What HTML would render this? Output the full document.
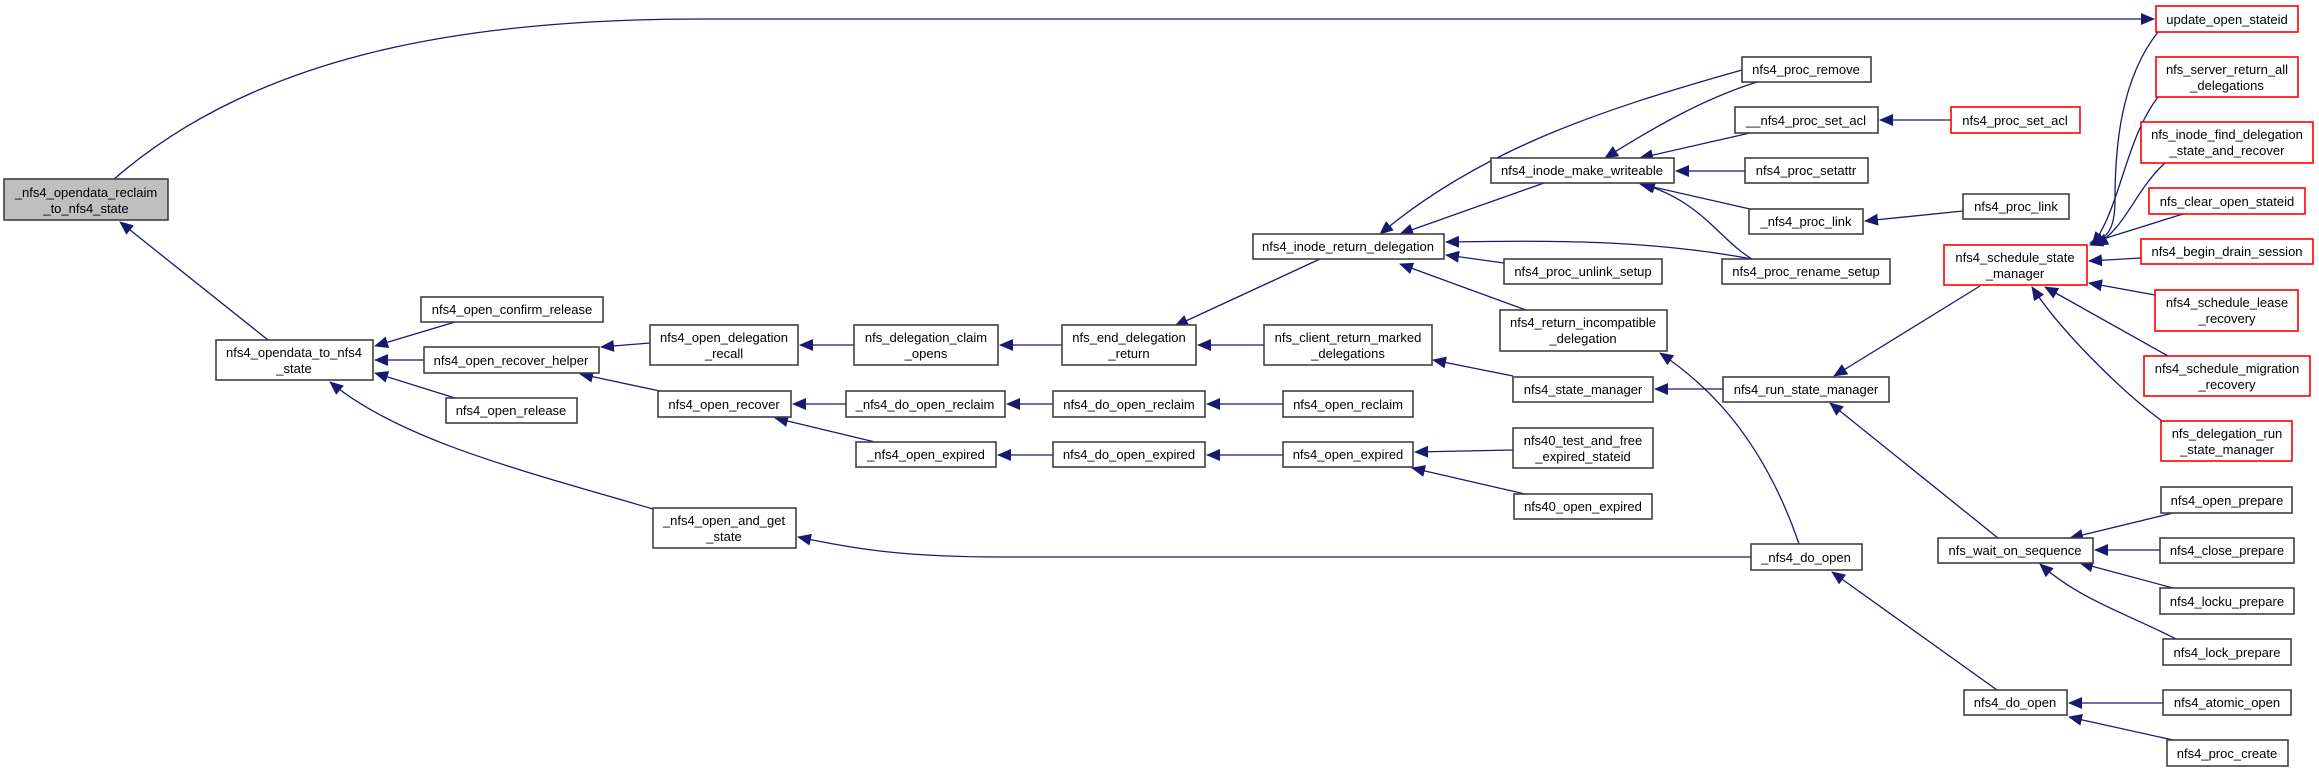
<!DOCTYPE html>
<html><head><meta charset="utf-8"><style>
html,body{margin:0;padding:0;background:#fff;}
svg{display:block;}
text{font-family:"Liberation Sans",sans-serif;font-size:13px;fill:#000;text-anchor:middle;}
.n{fill:#fff;stroke:#404040;stroke-width:1.6;}
.r{fill:#fff;stroke:#ff0000;stroke-width:1.6;}
.g{fill:#bfbfbf;stroke:#404040;stroke-width:1.6;}
.e{fill:none;stroke:#191970;stroke-width:1.3;marker-end:url(#a);}
</style></head><body>
<svg width="2319" height="772" viewBox="0 0 2319 772" xmlns="http://www.w3.org/2000/svg">
<defs><marker id="a" markerUnits="userSpaceOnUse" markerWidth="14" markerHeight="12" refX="13" refY="6" orient="auto"><path d="M0,0 L14,6 L0,12 Z" fill="#191970"/></marker></defs>
<!-- edges -->
<path class="e" d="M113,180 C250,60 450,19 700,19 L2154,19"/>
<path class="e" d="M268,340 L120,222"/>
<path class="e" d="M455,322 L375,346"/>
<path class="e" d="M424,360 L375,360"/>
<path class="e" d="M455,398 L375,373"/>
<path class="e" d="M653,509 C520,470 400,440 330,382"/>
<path class="e" d="M650,343 L601,347"/>
<path class="e" d="M660,391 L580,374"/>
<path class="e" d="M854,345 L800,345"/>
<path class="e" d="M1062,345 L1000,345"/>
<path class="e" d="M1320,259 L1175,326"/>
<path class="e" d="M1264,345 L1198,345"/>
<path class="e" d="M846,404 L793,404"/>
<path class="e" d="M875,442 L775,418"/>
<path class="e" d="M1053,404 L1007,404"/>
<path class="e" d="M1283,404 L1207,404"/>
<path class="e" d="M1053,455 L998,455"/>
<path class="e" d="M1283,455 L1207,455"/>
<path class="e" d="M1513,450 L1415,452"/>
<path class="e" d="M1525,494 L1412,468"/>
<path class="e" d="M1513,376 L1433,360"/>
<path class="e" d="M1723,389 L1655,389"/>
<path class="e" d="M1799,544 C1760,430 1700,380 1660,353"/>
<path class="e" d="M1751,557 L1000,557 C900,557 850,548 798,537"/>
<path class="e" d="M1997,690 L1832,572"/>
<path class="e" d="M2163,703 L2069,703"/>
<path class="e" d="M2173,740 L2069,717"/>
<path class="e" d="M1998,538 L1830,403"/>
<path class="e" d="M1980,286 L1834,376"/>
<path class="e" d="M2173,513 L2070,538"/>
<path class="e" d="M2160,550 L2095,550"/>
<path class="e" d="M2173,588 L2080,563"/>
<path class="e" d="M2176,639 C2130,615 2080,600 2040,564"/>
<path class="e" d="M2158,32 C2120,80 2115,150 2115,200 C2115,225 2110,238 2090,245"/>
<path class="e" d="M2158,97 C2125,140 2120,210 2092,245"/>
<path class="e" d="M2165,163 C2135,190 2125,230 2095,245"/>
<path class="e" d="M2183,214 L2090,243"/>
<path class="e" d="M2141,258 L2089,261"/>
<path class="e" d="M2155,295 L2089,283"/>
<path class="e" d="M2168,356 L2045,287"/>
<path class="e" d="M2162,421 C2120,390 2060,330 2032,287"/>
<path class="e" d="M1951,120 L1880,120"/>
<path class="e" d="M1750,133 L1640,158"/>
<path class="e" d="M1757,82 C1700,100 1650,130 1605,158"/>
<path class="e" d="M1745,171 L1676,171"/>
<path class="e" d="M1750,209 L1640,184"/>
<path class="e" d="M1963,211 L1865,221"/>
<path class="e" d="M1752,259 C1720,240 1700,200 1642,184"/>
<path class="e" d="M1752,259 C1650,240 1550,240 1446,242"/>
<path class="e" d="M1544,183 L1400,234"/>
<path class="e" d="M1742,70 C1600,110 1480,150 1380,234"/>
<path class="e" d="M1504,263 L1446,255"/>
<path class="e" d="M1526,310 L1400,264"/>
<!-- nodes -->
<g>
<rect class="g" x="4" y="179" width="164" height="41"/><text x="86" y="197">_nfs4_opendata_reclaim</text><text x="86" y="213">_to_nfs4_state</text>
<rect class="n" x="216" y="340" width="157" height="40"/><text x="294" y="357">nfs4_opendata_to_nfs4</text><text x="294" y="373">_state</text>
<rect class="n" x="421" y="297" width="182" height="25"/><text x="512" y="314">nfs4_open_confirm_release</text>
<rect class="n" x="424" y="347" width="175" height="26"/><text x="511" y="365">nfs4_open_recover_helper</text>
<rect class="n" x="446" y="398" width="131" height="25"/><text x="511" y="415">nfs4_open_release</text>
<rect class="n" x="653" y="508" width="143" height="40"/><text x="724" y="525">_nfs4_open_and_get</text><text x="724" y="541">_state</text>
<rect class="n" x="650" y="325" width="148" height="40"/><text x="724" y="342">nfs4_open_delegation</text><text x="724" y="358">_recall</text>
<rect class="n" x="658" y="391" width="133" height="26"/><text x="724" y="409">nfs4_open_recover</text>
<rect class="n" x="856" y="442" width="140" height="25"/><text x="926" y="459">_nfs4_open_expired</text>
<rect class="n" x="846" y="391" width="159" height="26"/><text x="925" y="409">_nfs4_do_open_reclaim</text>
<rect class="n" x="854" y="325" width="144" height="40"/><text x="926" y="342">nfs_delegation_claim</text><text x="926" y="358">_opens</text>
<rect class="n" x="1062" y="325" width="134" height="40"/><text x="1129" y="342">nfs_end_delegation</text><text x="1129" y="358">_return</text>
<rect class="n" x="1253" y="234" width="191" height="25"/><text x="1348" y="251">nfs4_inode_return_delegation</text>
<rect class="n" x="1264" y="325" width="168" height="40"/><text x="1348" y="342">nfs_client_return_marked</text><text x="1348" y="358">_delegations</text>
<rect class="n" x="1053" y="391" width="152" height="26"/><text x="1129" y="409">nfs4_do_open_reclaim</text>
<rect class="n" x="1053" y="442" width="152" height="25"/><text x="1129" y="459">nfs4_do_open_expired</text>
<rect class="n" x="1283" y="391" width="130" height="26"/><text x="1348" y="409">nfs4_open_reclaim</text>
<rect class="n" x="1283" y="442" width="130" height="25"/><text x="1348" y="459">nfs4_open_expired</text>
<rect class="n" x="1513" y="377" width="140" height="25"/><text x="1583" y="394">nfs4_state_manager</text>
<rect class="n" x="1513" y="428" width="140" height="40"/><text x="1583" y="445">nfs40_test_and_free</text><text x="1583" y="461">_expired_stateid</text>
<rect class="n" x="1514" y="494" width="138" height="25"/><text x="1583" y="511">nfs40_open_expired</text>
<rect class="n" x="1751" y="544" width="111" height="26"/><text x="1806" y="562">_nfs4_do_open</text>
<rect class="n" x="1500" y="310" width="167" height="41"/><text x="1583" y="327">nfs4_return_incompatible</text><text x="1583" y="343">_delegation</text>
<rect class="n" x="1504" y="259" width="158" height="25"/><text x="1583" y="276">nfs4_proc_unlink_setup</text>
<rect class="n" x="1491" y="158" width="183" height="25"/><text x="1582" y="175">nfs4_inode_make_writeable</text>
<rect class="n" x="1742" y="57" width="129" height="25"/><text x="1806" y="74">nfs4_proc_remove</text>
<rect class="n" x="1735" y="107" width="143" height="26"/><text x="1806" y="125">__nfs4_proc_set_acl</text>
<rect class="n" x="1745" y="158" width="123" height="25"/><text x="1806" y="175">nfs4_proc_setattr</text>
<rect class="n" x="1749" y="209" width="114" height="25"/><text x="1806" y="226">_nfs4_proc_link</text>
<rect class="n" x="1722" y="259" width="168" height="25"/><text x="1806" y="276">nfs4_proc_rename_setup</text>
<rect class="n" x="1723" y="377" width="166" height="25"/><text x="1806" y="394">nfs4_run_state_manager</text>
<rect class="n" x="1938" y="538" width="155" height="25"/><text x="2015" y="555">nfs_wait_on_sequence</text>
<rect class="n" x="1964" y="690" width="103" height="25"/><text x="2015" y="707">nfs4_do_open</text>
<rect class="r" x="1951" y="107" width="129" height="26"/><text x="2015" y="125">nfs4_proc_set_acl</text>
<rect class="n" x="1963" y="194" width="106" height="25"/><text x="2016" y="211">nfs4_proc_link</text>
<rect class="r" x="1944" y="245" width="143" height="40"/><text x="2015" y="262">nfs4_schedule_state</text><text x="2015" y="278">_manager</text>
<rect class="r" x="2156" y="6" width="142" height="26"/><text x="2227" y="24">update_open_stateid</text>
<rect class="r" x="2156" y="57" width="142" height="40"/><text x="2227" y="74">nfs_server_return_all</text><text x="2227" y="90">_delegations</text>
<rect class="r" x="2141" y="122" width="172" height="41"/><text x="2227" y="139">nfs_inode_find_delegation</text><text x="2227" y="155">_state_and_recover</text>
<rect class="r" x="2149" y="188" width="156" height="26"/><text x="2227" y="206">nfs_clear_open_stateid</text>
<rect class="r" x="2141" y="239" width="172" height="25"/><text x="2227" y="256">nfs4_begin_drain_session</text>
<rect class="r" x="2155" y="290" width="143" height="41"/><text x="2227" y="307">nfs4_schedule_lease</text><text x="2227" y="323">_recovery</text>
<rect class="r" x="2144" y="356" width="166" height="40"/><text x="2227" y="373">nfs4_schedule_migration</text><text x="2227" y="389">_recovery</text>
<rect class="r" x="2161" y="421" width="131" height="40"/><text x="2227" y="438">nfs_delegation_run</text><text x="2227" y="454">_state_manager</text>
<rect class="n" x="2161" y="487" width="131" height="26"/><text x="2227" y="505">nfs4_open_prepare</text>
<rect class="n" x="2160" y="538" width="134" height="25"/><text x="2227" y="555">nfs4_close_prepare</text>
<rect class="n" x="2160" y="588" width="134" height="26"/><text x="2227" y="606">nfs4_locku_prepare</text>
<rect class="n" x="2163" y="639" width="128" height="26"/><text x="2227" y="657">nfs4_lock_prepare</text>
<rect class="n" x="2163" y="690" width="128" height="25"/><text x="2227" y="707">nfs4_atomic_open</text>
<rect class="n" x="2167" y="740" width="121" height="26"/><text x="2227" y="758">nfs4_proc_create</text>
</g>
</svg>
</body></html>
